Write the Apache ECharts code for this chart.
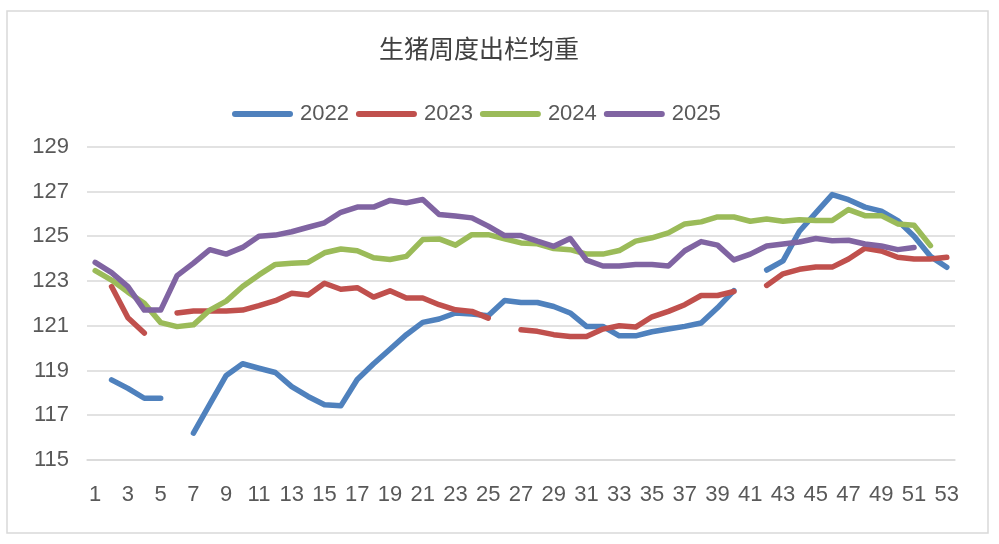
<!DOCTYPE html>
<html>
<head>
<meta charset="utf-8">
<script src="https://cdn.jsdelivr.net/npm/echarts@6/dist/echarts.min.js"></script>
<style>
html,body{margin:0;padding:0;background:#fff;}
#c{width:999px;height:544px;}
</style>
</head>
<body>
<div id="c"></div>
<script>
const weeks = Array.from({length: 53}, (_, i) => String(i + 1));
const yTicks = [115, 117, 119, 121, 123, 125, 127, 129];
const s2022 = [null,118.58,118.2,117.76,117.76,null,116.2,117.5,118.78,119.3,119.1,118.91,118.28,117.84,117.47,117.42,118.6,119.3,119.95,120.6,121.15,121.3,121.57,121.52,121.45,122.13,122.04,122.04,121.86,121.57,120.97,120.97,120.55,120.55,120.73,120.85,120.97,121.12,121.8,122.57,null,123.49,123.9,125.22,126.04,126.86,126.63,126.3,126.12,125.7,125.0,124.1,123.61];
const s2023 = [null,122.75,121.36,120.67,null,121.57,121.66,121.66,121.66,121.7,121.9,122.12,122.45,122.37,122.9,122.63,122.7,122.28,122.56,122.24,122.24,121.94,121.71,121.64,121.34,null,120.82,120.75,120.6,120.52,120.52,120.85,121.0,120.94,121.4,121.64,121.94,122.35,122.35,122.53,null,122.8,123.32,123.52,123.62,123.62,123.98,124.46,124.34,124.06,123.98,123.98,124.06];
const s2024 = [123.46,123.04,122.5,122.0,121.14,120.96,121.04,121.7,122.1,122.75,123.27,123.74,123.79,123.83,124.26,124.43,124.35,124.04,123.96,124.1,124.85,124.88,124.6,125.07,125.07,124.88,124.7,124.66,124.45,124.4,124.2,124.2,124.36,124.78,124.93,125.15,125.55,125.64,125.86,125.86,125.67,125.77,125.67,125.74,125.7,125.7,126.19,125.92,125.92,125.55,125.49,124.58,null];
const s2025 = [123.83,123.37,122.75,121.7,121.7,123.24,123.8,124.4,124.2,124.5,125.0,125.05,125.2,125.4,125.6,126.07,126.3,126.3,126.6,126.49,126.64,125.97,125.9,125.82,125.45,125.03,125.03,124.78,124.55,124.9,123.93,123.67,123.67,123.74,123.74,123.67,124.35,124.76,124.6,123.94,124.2,124.56,124.65,124.74,124.9,124.8,124.82,124.65,124.56,124.4,124.5,null,null];
const seriesNames = ['2022', '2023', '2024', '2025'];
const seriesData = [s2022, s2023, s2024, s2025];
const colors = ['#4F81BD', '#C0504D', '#9BBB59', '#8064A2'];

const chart = echarts.init(document.getElementById('c'), null, {renderer: 'canvas'});
const textColor = '#595959';
const fontFam = '"Liberation Sans", Arial, sans-serif';
chart.setOption({
  animation: false,
  backgroundColor: '#ffffff',
  color: colors,
  graphic: [{
    type: 'rect',
    shape: {x: 7, y: 11, width: 981, height: 522},
    style: {fill: 'none', stroke: '#D9D9D9', lineWidth: 1.5},
    silent: true, z: -1
  }],
  title: {
    text: '生猪周度出栏均重',
    left: 374,
    top: 31,
    textStyle: {fontFamily: '"Noto Sans CJK SC", sans-serif', fontSize: 25, fontWeight: 'normal', color: '#404040'}
  },
  legend: {
    data: seriesNames,
    left: 227,
    top: 98,
    itemWidth: 61,
    itemHeight: 12,
    itemGap: 7,
    icon: 'path://M3,0 L58,0 A3,3 0 0 1 58,6 L3,6 A3,3 0 0 1 3,0 Z',
    textStyle: {fontFamily: fontFam, fontSize: 22, color: textColor, padding: [0, 0, 0, 2]}
  },
  grid: {left: 87, right: 44, top: 146.7, bottom: 84, containLabel: false},
  xAxis: {
    type: 'category',
    data: weeks,
    boundaryGap: true,
    axisLine: {show: true, lineStyle: {color: '#D9D9D9', width: 1.5}},
    axisTick: {show: false},
    axisLabel: {interval: 1, margin: 24, fontFamily: fontFam, fontSize: 22, color: textColor}
  },
  yAxis: {
    type: 'value',
    min: yTicks[0],
    max: yTicks[yTicks.length - 1],
    interval: 2,
    axisLine: {show: false},
    axisTick: {show: false},
    splitLine: {lineStyle: {color: '#D9D9D9', width: 1.5}},
    axisLabel: {margin: 18, fontFamily: fontFam, fontSize: 22, color: textColor}
  },
  series: seriesNames.map((n, k) => ({
    name: n,
    type: 'line',
    data: seriesData[k],
    symbol: 'none',
    connectNulls: false,
    lineStyle: {width: 5.5, color: colors[k], cap: 'round', join: 'round'},
    itemStyle: {color: colors[k]}
  }))
});
</script>
</body>
</html>
